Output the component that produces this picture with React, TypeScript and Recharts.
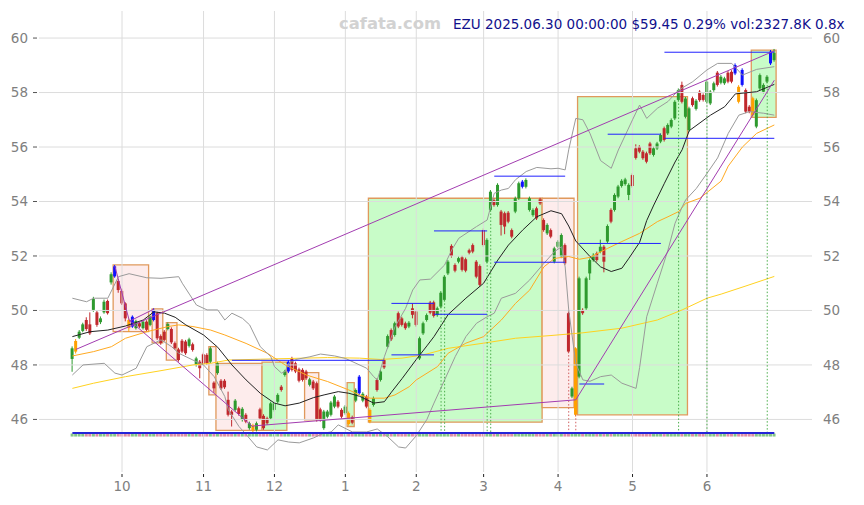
import {Bar, ComposedChart, Line, ReferenceArea, ReferenceLine, XAxis, YAxis} from "recharts";

// daily candles, EZU, 2024-09 .. 2025-06-30
const opens = [
    48.22, 48.49, 49.00, 49.25, 49.65, 49.49, 50.02, 49.93, 49.57, 49.93,
    50.35, 51.03, 51.25, 51.08, 50.72, 50.26, 49.65, 49.41, 49.35, 49.53,
    49.35, 49.59, 49.47, 49.65, 49.90, 49.06, 49.22, 49.32, 49.32, 48.80,
    48.57, 48.89, 48.86, 48.70, 48.76, 48.00, 48.12, 48.39, 48.37, 48.12,
    47.35, 47.70, 47.42, 47.42, 46.72, 46.29, 46.35, 46.41, 45.98, 46.17,
    45.68, 45.60, 45.62, 46.37, 46.13, 46.04, 46.04, 46.35, 46.65, 47.20,
    47.63, 47.76, 48.24, 48.06, 47.84, 47.82, 47.76, 47.27, 47.39, 47.33,
    46.37, 45.68, 46.10, 46.17, 46.47, 46.65, 46.35, 46.23, 46.23, 46.08,
    46.69, 46.96, 46.69, 46.84, 46.35, 46.53, 47.45, 47.45, 48.18, 48.67,
    49.28, 49.10, 49.90, 49.71, 49.53, 49.41, 50.08, 49.96, 48.24, 49.16,
    49.65, 50.29, 50.30, 49.83, 50.14, 50.39, 51.36, 52.37, 51.67, 51.79,
    51.95, 51.88, 52.21, 52.40, 51.79, 51.63, 52.95, 51.79, 53.69, 54.05,
    53.87, 53.63, 53.57, 53.59, 52.95, 53.63, 54.12, 54.54, 54.54, 53.69,
    53.50, 53.75, 54.08, 53.32, 52.83, 52.95, 51.79, 52.34, 51.98, 52.40,
    49.90, 46.84, 46.17, 47.57, 50.02, 50.08, 51.36, 51.85, 52.10, 52.16,
    52.34, 52.53, 53.69, 53.69, 54.18, 54.57, 54.64, 54.24, 54.97, 55.95,
    56.01, 55.83, 55.77, 56.13, 55.71, 55.95, 56.20, 56.69, 56.50, 56.75,
    57.05, 57.73, 58.28, 57.11, 56.62, 57.79, 57.40, 58.03, 57.91, 57.66,
    57.60, 58.09, 58.73, 58.36, 58.34, 58.73, 58.76, 58.70, 58.21, 58.83,
    58.09, 57.48, 57.79, 56.75, 58.15, 58.03, 58.40, 59.07, 59.19,
];
const highs = [
    48.68, 48.95, 49.28, 49.55, 49.75, 49.93, 50.50, 50.00, 49.78, 50.40,
    50.40, 51.40, 51.67, 51.15, 50.80, 50.30, 49.70, 49.82, 49.66, 49.58,
    49.64, 49.64, 49.82, 50.08, 49.95, 49.12, 49.28, 49.56, 49.38, 48.86,
    48.63, 48.95, 48.92, 49.00, 48.82, 48.30, 48.18, 48.45, 48.43, 48.67,
    47.40, 48.12, 47.48, 47.48, 47.02, 46.35, 46.75, 46.47, 46.45, 46.23,
    45.92, 45.84, 45.92, 46.43, 46.19, 46.10, 46.65, 46.65, 46.96, 47.26,
    47.82, 48.18, 48.30, 48.12, 47.90, 47.88, 47.82, 47.53, 47.45, 47.39,
    46.43, 46.35, 46.35, 46.68, 46.90, 46.71, 46.41, 46.53, 46.29, 46.14,
    47.14, 47.63, 47.00, 46.90, 46.41, 46.84, 47.51, 47.82, 48.24, 49.12,
    49.34, 49.59, 49.96, 49.77, 49.59, 49.61, 50.26, 50.02, 49.04, 49.59,
    49.89, 50.35, 50.36, 50.14, 50.71, 51.30, 51.85, 52.43, 51.73, 51.98,
    52.01, 51.94, 52.27, 52.46, 51.85, 51.69, 53.01, 52.65, 54.42, 54.11,
    54.67, 53.69, 53.63, 53.65, 53.01, 54.18, 54.73, 54.79, 54.85, 54.18,
    53.75, 53.81, 54.14, 53.38, 53.20, 53.01, 52.34, 52.58, 52.83, 52.46,
    49.96, 47.20, 48.65, 51.24, 50.08, 51.24, 51.91, 52.10, 52.16, 52.60,
    52.40, 53.16, 53.75, 54.30, 54.61, 54.82, 54.87, 54.67, 55.03, 56.10,
    56.07, 55.89, 55.83, 56.19, 56.01, 56.19, 56.50, 56.75, 56.87, 57.05,
    57.72, 58.15, 58.40, 57.84, 57.48, 57.85, 57.76, 58.09, 57.97, 58.46,
    58.09, 58.40, 58.79, 58.64, 58.58, 58.79, 58.82, 59.07, 58.27, 58.89,
    58.15, 57.54, 57.85, 57.78, 58.70, 58.34, 58.64, 59.56, 59.60,
];
const lows = [
    47.75, 48.42, 48.95, 49.20, 49.25, 49.10, 49.95, 49.40, 49.50, 49.88,
    49.85, 50.95, 51.20, 50.65, 50.20, 49.60, 49.22, 49.36, 49.30, 49.36,
    49.30, 49.24, 49.42, 49.60, 48.92, 48.74, 48.86, 49.27, 48.77, 48.55,
    48.12, 48.43, 48.37, 48.64, 48.49, 47.94, 47.51, 47.98, 48.00, 48.06,
    46.97, 47.64, 47.08, 47.12, 46.11, 45.74, 46.29, 46.14, 45.92, 45.86,
    45.62, 45.50, 45.56, 45.98, 45.62, 45.80, 45.98, 46.29, 46.59, 47.02,
    47.57, 47.70, 47.76, 47.70, 47.36, 47.39, 47.45, 47.21, 47.08, 45.92,
    45.92, 45.62, 46.04, 46.11, 46.41, 46.41, 46.04, 46.17, 45.77, 45.82,
    46.63, 46.90, 46.63, 46.41, 45.86, 46.47, 47.02, 47.39, 47.85, 48.61,
    48.88, 49.04, 49.35, 49.41, 49.29, 49.35, 49.71, 49.41, 48.18, 49.10,
    49.59, 49.86, 49.74, 49.77, 50.08, 50.33, 51.30, 51.94, 51.40, 51.73,
    51.43, 51.40, 52.06, 52.10, 51.18, 50.88, 52.34, 51.73, 53.63, 53.81,
    53.81, 52.75, 52.80, 53.20, 52.65, 53.57, 54.06, 54.48, 54.48, 53.63,
    53.44, 53.32, 53.87, 52.89, 52.77, 52.65, 51.73, 52.28, 51.92, 51.67,
    48.43, 46.78, 46.11, 47.51, 49.84, 50.02, 51.12, 51.79, 51.79, 52.10,
    51.40, 52.47, 53.20, 53.63, 54.12, 54.51, 54.58, 54.05, 54.51, 55.54,
    55.77, 55.53, 55.40, 55.71, 55.65, 55.89, 56.14, 56.20, 56.44, 56.69,
    56.99, 57.67, 57.60, 57.05, 56.56, 57.48, 57.34, 57.66, 57.67, 57.60,
    57.54, 58.03, 58.22, 58.30, 58.28, 58.34, 58.34, 58.64, 57.60, 58.22,
    57.24, 57.24, 57.11, 56.69, 58.09, 57.97, 58.34, 59.01, 59.13,
];
const closes = [
    48.61, 48.88, 49.22, 49.49, 49.32, 49.16, 50.42, 49.47, 49.71, 50.32,
    49.90, 51.33, 51.62, 50.75, 50.26, 49.71, 49.35, 49.77, 49.61, 49.41,
    49.59, 49.29, 49.77, 50.02, 48.98, 48.80, 48.92, 49.50, 48.83, 48.61,
    48.18, 48.49, 48.43, 48.94, 48.55, 48.24, 47.88, 48.04, 48.06, 48.61,
    47.14, 48.06, 47.14, 47.18, 46.17, 46.17, 46.69, 46.20, 46.39, 45.92,
    45.86, 45.78, 45.86, 46.04, 45.68, 45.86, 46.59, 46.59, 46.90, 47.08,
    47.76, 48.12, 47.82, 47.76, 47.42, 47.45, 47.51, 47.47, 47.14, 45.98,
    45.98, 46.29, 46.29, 46.62, 46.84, 46.47, 46.10, 46.47, 45.83, 45.88,
    47.08, 47.57, 46.94, 46.47, 45.92, 46.78, 47.08, 47.76, 47.91, 49.06,
    48.94, 49.53, 49.41, 49.47, 49.35, 49.55, 49.84, 49.47, 48.98, 49.53,
    49.83, 49.92, 49.80, 50.08, 50.65, 51.24, 51.79, 52.00, 51.46, 51.92,
    51.49, 51.46, 52.12, 52.16, 51.24, 50.94, 52.40, 52.59, 54.36, 53.87,
    54.61, 53.14, 53.08, 53.26, 52.71, 54.12, 54.67, 54.73, 54.79, 54.12,
    53.69, 53.38, 53.93, 52.95, 53.14, 52.71, 52.28, 52.52, 52.77, 51.73,
    48.49, 47.14, 48.61, 51.18, 49.90, 51.18, 51.85, 52.04, 51.85, 52.34,
    51.79, 53.10, 53.26, 54.24, 54.55, 54.76, 54.81, 54.61, 54.57, 55.60,
    55.83, 55.59, 55.46, 55.77, 55.95, 56.13, 56.44, 56.26, 56.81, 56.99,
    57.66, 58.09, 57.66, 57.78, 57.42, 57.54, 57.70, 57.72, 57.73, 58.40,
    58.03, 58.34, 58.28, 58.58, 58.52, 58.40, 58.40, 59.01, 57.66, 58.28,
    57.30, 57.30, 57.17, 57.72, 58.64, 58.28, 58.58, 59.50, 59.45,
];
const blueDays = [12, 17, 23, 61, 81, 127, 187, 189, 197];
const orangeDays = [1, 16, 51, 78, 84, 142, 188, 192];

// indicator lines, [day index, value]
const ma20Pts = [[0, 49.04], [5, 49.22], [10, 49.28], [15, 49.43], [20, 49.65], [23, 49.95], [26, 49.9], [29, 49.75], [32, 49.47], [37, 49.1], [41, 48.65], [45, 48.0], [49, 47.45], [53, 46.96], [57, 46.6], [60, 46.5], [64, 46.6], [68, 46.8], [71, 46.9], [75, 47.02], [78, 46.96], [81, 46.85], [85, 46.6], [88, 46.65], [90, 47.0], [93, 47.5], [97, 48.2], [100, 48.7], [102, 49.04], [106, 49.85], [111, 50.45], [116, 51.0], [120, 51.85], [123, 52.4], [127, 52.95], [131, 53.44], [135, 53.66], [138, 53.55], [140, 53.1], [142, 52.55], [146, 51.98], [149, 51.6], [152, 51.43], [155, 51.55], [157, 51.92], [160, 52.5], [162, 53.3], [164, 53.87], [167, 54.67], [170, 55.45], [172, 55.9], [174, 56.6], [180, 57.17], [184, 57.48], [187, 57.95], [193, 58.03], [198, 58.3]];
const bbUpPts = [[0, 50.45], [4, 50.32], [6, 50.45], [10, 50.45], [13, 51.24], [16, 51.35], [21, 51.2], [25, 51.18], [30, 51.24], [31, 51.0], [33, 50.6], [35, 50.2], [38, 50.02], [41, 50.02], [43, 49.65], [45, 49.9], [48, 49.71], [50, 49.47], [53, 48.67], [56, 48.3], [57, 47.94], [59, 47.7], [60, 47.76], [61, 48.06], [63, 48.2], [67, 48.3], [70, 48.4], [74, 48.33], [77, 48.24], [80, 48.06], [83, 47.88], [85, 47.57], [86, 47.45], [88, 48.3], [91, 49.4], [94, 50.08], [96, 50.75], [98, 51.12], [101, 51.15], [105, 51.67], [107, 52.22], [109, 52.65], [114, 53.08], [117, 53.32], [119, 54.3], [121, 54.42], [123, 54.48], [125, 54.8], [128, 55.1], [131, 55.25], [135, 55.2], [137, 55.22], [139, 55.16], [140, 55.9], [142, 57.05], [144, 57.0], [146, 56.5], [149, 55.5], [152, 55.22], [154, 55.89], [158, 57.0], [160, 57.54], [162, 57.05], [165, 57.42], [168, 57.67], [171, 58.09], [175, 58.4], [179, 58.83], [182, 59.07], [186, 59.07], [189, 58.64], [193, 58.85], [198, 58.95]];
const bbLoPts = [[0, 47.63], [3, 48.0], [9, 48.06], [12, 47.7], [14, 47.63], [18, 47.88], [21, 48.67], [25, 48.92], [28, 48.67], [30, 48.43], [34, 48.18], [37, 48.0], [40, 47.57], [43, 46.84], [44, 46.35], [47, 45.74], [49, 45.45], [52, 44.99], [55, 44.88], [58, 45.25], [61, 45.17], [64, 45.14], [68, 45.32], [71, 45.5], [73, 45.54], [75, 45.8], [79, 45.54], [83, 45.54], [86, 45.65], [89, 45.36], [92, 44.99], [94, 44.95], [97, 45.4], [100, 46.0], [102, 46.6], [105, 47.45], [108, 48.31], [111, 49.04], [114, 49.53], [117, 49.77], [119, 49.9], [121, 50.45], [125, 50.63], [129, 51.12], [133, 51.73], [136, 52.16], [138, 52.34], [139, 51.6], [140, 50.02], [142, 48.06], [144, 47.45], [146, 47.4], [149, 47.57], [152, 47.63], [155, 47.33], [159, 47.14], [160, 47.9], [162, 49.77], [165, 51.0], [168, 52.22], [170, 53.2], [172, 53.8], [173, 54.06], [176, 54.48], [179, 55.03], [182, 55.6], [185, 56.5], [188, 57.17], [191, 57.3], [195, 57.24], [198, 57.17]];
const ma50Pts = [[0, 48.33], [6, 48.49], [11, 48.67], [15, 48.98], [21, 49.22], [27, 49.41], [30, 49.47], [34, 49.41], [39, 49.28], [43, 49.1], [49, 48.79], [55, 48.43], [60, 48.0], [66, 47.63], [72, 47.39], [78, 47.08], [81, 46.9], [84, 46.78], [88, 46.78], [91, 46.9], [95, 47.2], [97, 47.45], [103, 47.94], [106, 48.43], [111, 48.8], [116, 49.04], [121, 49.65], [125, 50.26], [129, 50.75], [133, 51.6], [136, 51.91], [140, 51.98], [143, 51.88], [146, 51.95], [151, 52.28], [155, 52.53], [160, 52.83], [165, 53.26], [168, 53.44], [171, 53.63], [173, 53.93], [177, 54.12], [183, 54.75], [185, 55.3], [189, 56.0], [193, 56.5], [198, 56.81]];
const ma200Pts = [[0, 47.14], [6, 47.33], [15, 47.57], [25, 47.79], [34, 48.0], [39, 48.06], [44, 48.18], [53, 48.21], [62, 48.24], [72, 48.27], [81, 48.25], [87, 48.2], [93, 48.25], [99, 48.37], [106, 48.61], [116, 48.8], [125, 48.98], [135, 49.08], [144, 49.18], [155, 49.35], [165, 49.65], [172, 50.02], [179, 50.45], [183, 50.6], [190, 50.9], [198, 51.25]];

// boxes: [from day, to day, low, high, kind]
const zones = [
    [12, 21, 49.22, 51.67, "down"], [23, 25, 48.81, 50.06, "down"], [27, 29, 48.18, 49.55, "down"],
    [39, 40, 46.90, 48.67, "down"], [41, 53, 45.60, 48.06, "down"], [54, 60, 45.60, 48.10, "up"],
    [66, 69, 45.98, 47.72, "down"], [78, 79, 45.74, 47.35, "up"], [84, 132, 45.90, 54.12, "up"],
    [133, 141, 46.43, 54.12, "down"], [143, 173, 46.17, 57.85, "up"], [192, 198, 57.09, 59.56, "up"],
];
// support / resistance: [from day, to day, price]
const levels = [
    [45, 88, 48.17], [90, 102, 50.26], [90, 102, 48.37], [102, 117, 52.92], [102, 117, 49.86],
    [119, 139, 54.93], [119, 139, 51.77], [143, 166, 52.46], [143, 150, 47.3], [151, 166, 56.47],
    [167, 198, 56.32], [167, 198, 59.48],
];
// trend lines: [day, price, day, price]
const trends = [
    [1, 48.57, 198, 59.53], [12, 51.62, 16, 49.65], [16, 49.6, 23, 50.05],
    [16, 49.65, 51, 45.72], [51, 45.76, 142, 46.72], [142, 46.72, 198, 58.45],
];
const signalDays = [104, 105, 117, 118, 140, 142, 171, 179, 196];
const signalSell = [140, 142];

const monthTicks = [14, 37, 57, 77, 97, 116, 137, 158, 179];
const monthLabels = ["10", "11", "12", "1", "2", "3", "4", "5", "6"];
const priceTicks = [46, 48, 50, 52, 54, 56, 58, 60];
const Y_MIN = 44.07;
const Y_MAX = 61.03;

const rows: any[] = opens.map((o, i) => ({i: i, o: o, h: highs[i], l: lows[i], c: closes[i]}));
const attach = (key: string, pts: number[][]) => pts.forEach(([i, v]) => { rows[i][key] = v; });
attach("ma20", ma20Pts);
attach("bbUp", bbUpPts);
attach("bbLo", bbLoPts);
attach("ma50", ma50Pts);
attach("ma200", ma200Pts);

const UP = "#2e9a2e";
const DOWN = "#c0282d";
const GRID = "#dcdcdc";
const font = "DejaVu Sans";

function Candle(props: any) {
    const {x, y, width, height, payload} = props;
    if (!payload) return null;
    const {o, h, l, c, i} = payload;
    const top = Math.min(y, y + height);
    const span = Math.abs(height);
    const ppu = span / (h - l);
    const py = (v: number) => top + (h - v) * ppu;
    const cx = x + width / 2;
    const up = c >= o;
    let col = up ? UP : DOWN;
    if (blueDays.includes(i)) col = "#1010ff";
    else if (orangeDays.includes(i)) col = "#ffa000";
    const bTop = py(Math.max(o, c));
    const bH = Math.max(1, py(Math.min(o, c)) - bTop);
    const sy = py(45.5);
    return (
        <g>
            <rect x={cx - 1.5} y={sy + 0.5} width={3} height={3} fill={up ? "#86c686" : "#de8ea4"}/>
            <line x1={cx} x2={cx} y1={top} y2={top + span} stroke={col} strokeWidth={1}/>
            <rect x={cx - 1.5} y={bTop} width={3} height={bH} fill={col}/>
        </g>
    );
}

export default function App() {
    return (
        <div style={{position: "absolute", left: 0, top: 0, width: 864, height: 505, background: "#fff"}}>
            <ComposedChart width={864} height={505} data={rows} accessibilityLayer={false}
                           margin={{top: 10, right: 0, bottom: 0, left: 0}}>
                <XAxis dataKey="i" type="category" ticks={monthTicks} interval={0} height={33}
                       padding={{left: 32.6, right: 35.9}} axisLine={false}
                       tickLine={{stroke: "#222"}} tickSize={5} tickMargin={4}
                       tickFormatter={(v: any) => monthLabels[monthTicks.indexOf(v)] ?? ""}
                       tick={{fill: "#7f7f7f", fontSize: 13.5, fontFamily: font}}/>
                <YAxis yAxisId="L" orientation="left" width={38} domain={[Y_MIN, Y_MAX]} allowDataOverflow
                       ticks={priceTicks} axisLine={false} tickLine={{stroke: "#555"}} tickSize={5} tickMargin={5}
                       tick={{fill: "#7f7f7f", fontSize: 13.5, fontFamily: font}}/>
                <YAxis yAxisId="R" orientation="right" width={52} domain={[Y_MIN, Y_MAX]} allowDataOverflow
                       ticks={priceTicks} axisLine={false} tickLine={false} tickSize={6} tickMargin={5}
                       tick={{fill: "#7f7f7f", fontSize: 13.5, fontFamily: font}}/>

                {zones.map((z, k) => (
                    <ReferenceArea key={"z" + k} yAxisId="L" x1={z[0] as number} x2={z[1] as number}
                                   y1={z[2] as number} y2={z[3] as number}
                                   fill={z[4] === "up" ? "#c8fcc8" : "#fdecec"} fillOpacity={1}
                                   stroke="#e0995c" strokeWidth={1.3}/>
                ))}

                {priceTicks.map((p) => (
                    <ReferenceLine key={"gy" + p} yAxisId="L" y={p} stroke={GRID} strokeWidth={1}/>
                ))}
                {monthTicks.map((m) => (
                    <ReferenceLine key={"gx" + m} yAxisId="L" x={m} stroke={GRID} strokeWidth={1}/>
                ))}

                <Line yAxisId="L" dataKey="ma200" stroke="#ffd21f" strokeWidth={1} dot={false} activeDot={false} connectNulls isAnimationActive={false}/>
                <Line yAxisId="L" dataKey="ma50" stroke="#ffaa22" strokeWidth={1} dot={false} activeDot={false} connectNulls isAnimationActive={false}/>
                <Line yAxisId="L" dataKey="bbUp" stroke="#9a9a9a" strokeWidth={1} dot={false} activeDot={false} connectNulls isAnimationActive={false}/>
                <Line yAxisId="L" dataKey="bbLo" stroke="#9a9a9a" strokeWidth={1} dot={false} activeDot={false} connectNulls isAnimationActive={false}/>
                <Line yAxisId="L" dataKey="ma20" stroke="#222" strokeWidth={1} dot={false} activeDot={false} connectNulls isAnimationActive={false}/>

                {signalDays.map((d) => (
                    <ReferenceLine key={"s" + d} yAxisId="L"
                                   segment={[{x: d, y: Math.min(opens[d], closes[d])}, {x: d, y: 45.5}]}
                                   stroke={signalSell.includes(d) ? "#d06060" : "#4cae4c"} strokeDasharray="1.5 2"/>
                ))}
                {levels.map((lv, k) => (
                    <ReferenceLine key={"h" + k} yAxisId="L" segment={[{x: lv[0], y: lv[2]}, {x: lv[1], y: lv[2]}]}
                                   stroke="#2020ff" strokeWidth={1}/>
                ))}
                {trends.map((t, k) => (
                    <ReferenceLine key={"t" + k} yAxisId="L" segment={[{x: t[0], y: t[1]}, {x: t[2], y: t[3]}]}
                                   stroke="#a23cb0" strokeWidth={1}/>
                ))}

                <Bar yAxisId="L" dataKey={(d: any) => [d.l, d.h]} barSize={3} shape={Candle} isAnimationActive={false}/>

                <ReferenceLine yAxisId="L" segment={[{x: 0, y: 45.5}, {x: 198, y: 45.5}]} stroke="#2424d8" strokeWidth={2}/>
            </ComposedChart>
            {/* hides a faint frame drawn round the plot area */}
            <div style={{position: "absolute", left: 37, top: 9, width: 777, height: 465, boxSizing: "border-box", border: "2px solid #fff", pointerEvents: "none"}}/>
            <div style={{position: "absolute", left: 339, top: 16, fontFamily: font, fontWeight: "bold", fontSize: 16.4, lineHeight: "15px", color: "#d2d2d2", whiteSpace: "nowrap"}}>
                cafata.com
            </div>
            <div style={{position: "absolute", left: 453, top: 19, fontFamily: font, fontSize: 13.5, lineHeight: "10px", color: "#10108c", whiteSpace: "nowrap"}}>
                EZU 2025.06.30 00:00:00 $59.45 0.29% vol:2327.8K 0.8x
            </div>
        </div>
    );
}
